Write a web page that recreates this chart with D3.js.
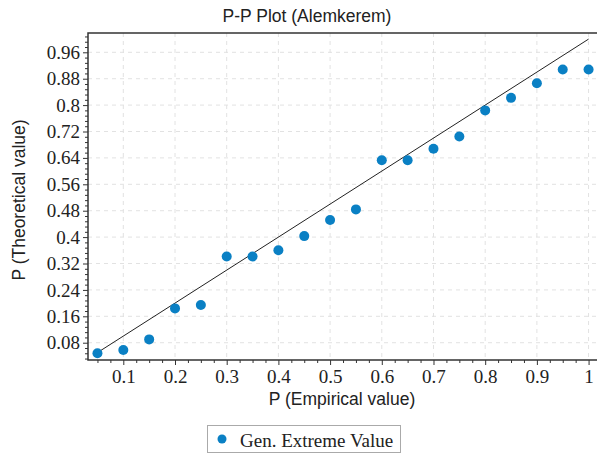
<!DOCTYPE html>
<html>
<head>
<meta charset="utf-8">
<script src="https://cdn.jsdelivr.net/npm/d3@7"></script>
<style>
  html, body { margin: 0; padding: 0; background: #fff; }
  svg { display: block; }
</style>
</head>
<body>
<svg id="chart" width="597" height="456"></svg>
<script>
// Empirical probabilities (x) and fitted GEV probabilities (y)
const empirical = [0.05, 0.1, 0.15, 0.2, 0.25, 0.3, 0.35, 0.4, 0.45, 0.5,
                   0.55, 0.6, 0.65, 0.7, 0.75, 0.8, 0.85, 0.9, 0.95, 1.0];
const theoretical = [0.048, 0.058, 0.090, 0.184, 0.194, 0.341, 0.341, 0.360, 0.403, 0.452,
                     0.484, 0.633, 0.633, 0.668, 0.705, 0.784, 0.822, 0.866, 0.908, 0.908];
const xTickValues = [0.1, 0.2, 0.3, 0.4, 0.5, 0.6, 0.7, 0.8, 0.9, 1];
const xTickLabels = ["0.1", "0.2", "0.3", "0.4", "0.5", "0.6", "0.7", "0.8", "0.9", "1"];
const yTickValues = [0.08, 0.16, 0.24, 0.32, 0.4, 0.48, 0.56, 0.64, 0.72, 0.8, 0.88, 0.96];
const yTickLabels = ["0.08", "0.16", "0.24", "0.32", "0.4", "0.48", "0.56", "0.64", "0.72", "0.8", "0.88", "0.96"];
const refLine = [[0.05, 0.05], [1, 1]];
const seriesName = "Gen. Extreme Value";
const chartTitle = "P-P Plot (Alemkerem)";
const xTitle = "P (Empirical value)";
const yTitle = "P (Theoretical value)";

const svg = d3.select("#chart");
const plotLeft = 88, plotRight = 597, plotTop = 33, plotBottom = 360;
const dotColor = "#0a80c4";
const serif = "'Liberation Serif', 'Times New Roman', serif";
const sans = "'Liberation Sans', Arial, sans-serif";

const x = d3.scaleLinear().domain([0.0317, 1.0163]).range([plotLeft, plotRight]);
const y = d3.scaleLinear().domain([0.0276, 1.0185]).range([plotBottom, plotTop]);

// dashed grid
const grid = svg.append("g");
grid.selectAll("line.vx").data(xTickValues).join("line")
  .attr("x1", d => x(d)).attr("x2", d => x(d))
  .attr("y1", plotTop).attr("y2", plotBottom)
  .attr("stroke", "#e2e2e2").attr("stroke-dasharray", "4,4");
grid.selectAll("line.hy").data(yTickValues).join("line")
  .attr("x1", plotLeft).attr("x2", plotRight)
  .attr("y1", d => y(d)).attr("y2", d => y(d))
  .attr("stroke", "#e2e2e2").attr("stroke-dasharray", "4,4");

// minor ticks
const xMinor = d3.range(0.05, 1.0001, 0.025).filter(v => !xTickValues.some(t => Math.abs(t - v) < 1e-6));
const yMinor = d3.range(0.032, 1.0185, 0.016).filter(v => !yTickValues.some(t => Math.abs(t - v) < 1e-6));

const xAxis = svg.append("g").attr("transform", `translate(0,${plotBottom})`)
  .call(d3.axisBottom(x).tickValues(xMinor).tickSize(3).tickFormat(""));
xAxis.select(".domain").remove();
xAxis.selectAll("line").attr("stroke", "#333");

const xMajor = svg.append("g").attr("transform", `translate(0,${plotBottom})`)
  .call(d3.axisBottom(x).tickValues(xTickValues).tickSize(5).tickPadding(5)
    .tickFormat((d, i) => xTickLabels[i]));
xMajor.select(".domain").remove();
xMajor.selectAll("line").attr("stroke", "#333");
xMajor.selectAll("text").attr("font-family", serif)
  .attr("font-size", 19).attr("fill", "#222");

const yAxis = svg.append("g").attr("transform", `translate(${plotLeft},0)`)
  .call(d3.axisLeft(y).tickValues(yMinor).tickSize(3).tickFormat(""));
yAxis.select(".domain").remove();
yAxis.selectAll("line").attr("stroke", "#333");

const yMajor = svg.append("g").attr("transform", `translate(${plotLeft},0)`)
  .call(d3.axisLeft(y).tickValues(yTickValues).tickSize(5).tickPadding(3)
    .tickFormat((d, i) => yTickLabels[i]));
yMajor.select(".domain").remove();
yMajor.selectAll("line").attr("stroke", "#333");
yMajor.selectAll("text").attr("font-family", serif)
  .attr("font-size", 19).attr("fill", "#222");

// frame: top, left, bottom
svg.append("path")
  .attr("d", `M${plotRight},${plotTop}H${plotLeft}V${plotBottom}H${plotRight}`)
  .attr("fill", "none").attr("stroke", "#333").attr("stroke-width", 1.5);

// reference line
svg.append("path")
  .attr("d", d3.line().x(d => x(d[0])).y(d => y(d[1]))(refLine))
  .attr("stroke", "#222").attr("stroke-width", 1).attr("fill", "none");

// points
svg.append("g").selectAll("circle").data(empirical).join("circle")
  .attr("cx", d => x(d)).attr("cy", (d, i) => y(theoretical[i]))
  .attr("r", 5).attr("fill", dotColor);

// titles
svg.append("text").attr("x", 307).attr("y", 22).attr("text-anchor", "middle")
  .attr("font-family", sans).attr("font-size", 17.5)
  .attr("fill", "#222").text(chartTitle);
svg.append("text").attr("x", 342).attr("y", 405).attr("text-anchor", "middle")
  .attr("font-family", sans).attr("font-size", 17.5)
  .attr("fill", "#222").text(xTitle);
svg.append("text").attr("transform", "translate(24.5,200) rotate(-90)").attr("text-anchor", "middle")
  .attr("font-family", sans).attr("font-size", 17.5)
  .attr("fill", "#222").text(yTitle);

// legend
const lg = svg.append("g");
lg.append("rect").attr("x", 207.5).attr("y", 425.5).attr("width", 193).attr("height", 27)
  .attr("fill", "#fff").attr("stroke", "#aaa");
lg.append("circle").attr("cx", 222).attr("cy", 439).attr("r", 4.5).attr("fill", dotColor);
lg.append("text").attr("x", 240).attr("y", 446.5)
  .attr("font-family", serif).attr("font-size", 19)
  .attr("fill", "#222").text(seriesName);
</script>
</body>
</html>
